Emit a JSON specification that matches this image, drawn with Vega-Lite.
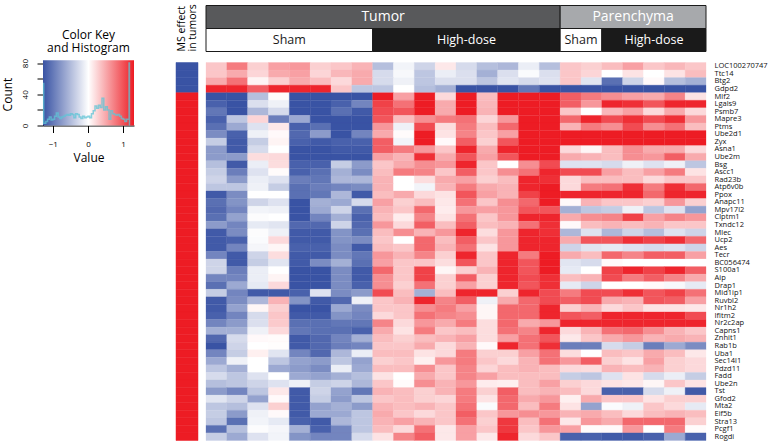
{"$schema":"https://vega.github.io/schema/vega-lite/v6.json","padding":{"left":1,"top":3.5,"right":0,"bottom":0},"background":"white","bounds":"flush","columns":4,"spacing":{"column":8,"row":11},"config":{"font":"Open Sans","view":{"stroke":null}},
"datasets":{"cells":[
{"gene":"LOC100270747","col":1,"v":0.3},{"gene":"LOC100270747","col":2,"v":0.7},{"gene":"LOC100270747","col":3,"v":0.25},{"gene":"LOC100270747","col":4,"v":0.5},{"gene":"LOC100270747","col":5,"v":0.55},{"gene":"LOC100270747","col":6,"v":0.25},{"gene":"LOC100270747","col":7,"v":0.3},{"gene":"LOC100270747","col":8,"v":0.4},{"gene":"LOC100270747","col":9,"v":-0.45},{"gene":"LOC100270747","col":10,"v":-0.08},{"gene":"LOC100270747","col":11,"v":-0.3},{"gene":"LOC100270747","col":12,"v":0.12},{"gene":"LOC100270747","col":13,"v":-0.25},{"gene":"LOC100270747","col":14,"v":-0.45},{"gene":"LOC100270747","col":15,"v":-0.5},{"gene":"LOC100270747","col":16,"v":-0.12},{"gene":"LOC100270747","col":17,"v":-0.45},{"gene":"LOC100270747","col":18,"v":0.3},{"gene":"LOC100270747","col":19,"v":0.25},{"gene":"LOC100270747","col":20,"v":0.35},{"gene":"LOC100270747","col":21,"v":0.5},{"gene":"LOC100270747","col":22,"v":0.3},{"gene":"LOC100270747","col":23,"v":0.38},{"gene":"LOC100270747","col":24,"v":0.3},
{"gene":"Ttc14","col":1,"v":0.3},{"gene":"Ttc14","col":2,"v":0.45},{"gene":"Ttc14","col":3,"v":0.22},{"gene":"Ttc14","col":4,"v":0.45},{"gene":"Ttc14","col":5,"v":0.5},{"gene":"Ttc14","col":6,"v":0.22},{"gene":"Ttc14","col":7,"v":0.38},{"gene":"Ttc14","col":8,"v":0.45},{"gene":"Ttc14","col":9,"v":-0.25},{"gene":"Ttc14","col":10,"v":-0.05},{"gene":"Ttc14","col":11,"v":-0.4},{"gene":"Ttc14","col":12,"v":-0.12},{"gene":"Ttc14","col":13,"v":-0.22},{"gene":"Ttc14","col":14,"v":-0.55},{"gene":"Ttc14","col":15,"v":-0.22},{"gene":"Ttc14","col":16,"v":-0.03},{"gene":"Ttc14","col":17,"v":-0.22},{"gene":"Ttc14","col":18,"v":0.3},{"gene":"Ttc14","col":19,"v":0.22},{"gene":"Ttc14","col":20,"v":0},{"gene":"Ttc14","col":21,"v":0.15},{"gene":"Ttc14","col":22,"v":0},{"gene":"Ttc14","col":23,"v":0.15},{"gene":"Ttc14","col":24,"v":0.35},
{"gene":"Btg2","col":1,"v":0.45},{"gene":"Btg2","col":2,"v":0.75},{"gene":"Btg2","col":3,"v":0.06},{"gene":"Btg2","col":4,"v":0.25},{"gene":"Btg2","col":5,"v":0.45},{"gene":"Btg2","col":6,"v":0.35},{"gene":"Btg2","col":7,"v":0.2},{"gene":"Btg2","col":8,"v":0.45},{"gene":"Btg2","col":9,"v":-0.25},{"gene":"Btg2","col":10,"v":-0.1},{"gene":"Btg2","col":11,"v":-0.4},{"gene":"Btg2","col":12,"v":-0.22},{"gene":"Btg2","col":13,"v":-0.22},{"gene":"Btg2","col":14,"v":-0.4},{"gene":"Btg2","col":15,"v":-0.18},{"gene":"Btg2","col":16,"v":-0.25},{"gene":"Btg2","col":17,"v":-0.2},{"gene":"Btg2","col":18,"v":0.3},{"gene":"Btg2","col":19,"v":-0.18},{"gene":"Btg2","col":20,"v":-1.0},{"gene":"Btg2","col":21,"v":-0.3},{"gene":"Btg2","col":22,"v":0.03},{"gene":"Btg2","col":23,"v":-0.45},{"gene":"Btg2","col":24,"v":-0.55},
{"gene":"Gdpd2","col":1,"v":1.15},{"gene":"Gdpd2","col":2,"v":1.15},{"gene":"Gdpd2","col":3,"v":0.85},{"gene":"Gdpd2","col":4,"v":1.15},{"gene":"Gdpd2","col":5,"v":1.15},{"gene":"Gdpd2","col":6,"v":1.15},{"gene":"Gdpd2","col":7,"v":0.3},{"gene":"Gdpd2","col":8,"v":-0.4},{"gene":"Gdpd2","col":9,"v":-0.4},{"gene":"Gdpd2","col":10,"v":0},{"gene":"Gdpd2","col":11,"v":-0.45},{"gene":"Gdpd2","col":12,"v":-0.55},{"gene":"Gdpd2","col":13,"v":-1.2},{"gene":"Gdpd2","col":14,"v":-1.2},{"gene":"Gdpd2","col":15,"v":-1.2},{"gene":"Gdpd2","col":16,"v":-0.95},{"gene":"Gdpd2","col":17,"v":-1.2},{"gene":"Gdpd2","col":18,"v":-1.2},{"gene":"Gdpd2","col":19,"v":-1.2},{"gene":"Gdpd2","col":20,"v":-1.2},{"gene":"Gdpd2","col":21,"v":-1.2},{"gene":"Gdpd2","col":22,"v":-1.2},{"gene":"Gdpd2","col":23,"v":-1.2},{"gene":"Gdpd2","col":24,"v":-1.2},
{"gene":"Mlf2","col":1,"v":-1.2},{"gene":"Mlf2","col":2,"v":-1.2},{"gene":"Mlf2","col":3,"v":-0.45},{"gene":"Mlf2","col":4,"v":0.02},{"gene":"Mlf2","col":5,"v":-1.2},{"gene":"Mlf2","col":6,"v":-1.2},{"gene":"Mlf2","col":7,"v":-1.2},{"gene":"Mlf2","col":8,"v":-1.2},{"gene":"Mlf2","col":9,"v":1.2},{"gene":"Mlf2","col":10,"v":0.5},{"gene":"Mlf2","col":11,"v":1.2},{"gene":"Mlf2","col":12,"v":0.2},{"gene":"Mlf2","col":13,"v":1.2},{"gene":"Mlf2","col":14,"v":0.35},{"gene":"Mlf2","col":15,"v":1.2},{"gene":"Mlf2","col":16,"v":1.2},{"gene":"Mlf2","col":17,"v":1.2},{"gene":"Mlf2","col":18,"v":0.85},{"gene":"Mlf2","col":19,"v":0.7},{"gene":"Mlf2","col":20,"v":0.6},{"gene":"Mlf2","col":21,"v":0.5},{"gene":"Mlf2","col":22,"v":0.45},{"gene":"Mlf2","col":23,"v":0.65},{"gene":"Mlf2","col":24,"v":0.15},
{"gene":"Lgals9","col":1,"v":-1.1},{"gene":"Lgals9","col":2,"v":-1.2},{"gene":"Lgals9","col":3,"v":-0.22},{"gene":"Lgals9","col":4,"v":-0.1},{"gene":"Lgals9","col":5,"v":-1.2},{"gene":"Lgals9","col":6,"v":-1.2},{"gene":"Lgals9","col":7,"v":-1.1},{"gene":"Lgals9","col":8,"v":-0.85},{"gene":"Lgals9","col":9,"v":1.0},{"gene":"Lgals9","col":10,"v":0.75},{"gene":"Lgals9","col":11,"v":1.2},{"gene":"Lgals9","col":12,"v":0.45},{"gene":"Lgals9","col":13,"v":1.2},{"gene":"Lgals9","col":14,"v":0.38},{"gene":"Lgals9","col":15,"v":1.2},{"gene":"Lgals9","col":16,"v":1.2},{"gene":"Lgals9","col":17,"v":1.2},{"gene":"Lgals9","col":18,"v":0.85},{"gene":"Lgals9","col":19,"v":0.55},{"gene":"Lgals9","col":20,"v":1.15},{"gene":"Lgals9","col":21,"v":1.1},{"gene":"Lgals9","col":22,"v":0.9},{"gene":"Lgals9","col":23,"v":1.15},{"gene":"Lgals9","col":24,"v":1.15},
{"gene":"Psmb7","col":1,"v":-0.95},{"gene":"Psmb7","col":2,"v":-1.2},{"gene":"Psmb7","col":3,"v":-0.5},{"gene":"Psmb7","col":4,"v":-0.25},{"gene":"Psmb7","col":5,"v":-1.2},{"gene":"Psmb7","col":6,"v":-1.2},{"gene":"Psmb7","col":7,"v":-1.0},{"gene":"Psmb7","col":8,"v":-1.15},{"gene":"Psmb7","col":9,"v":0.95},{"gene":"Psmb7","col":10,"v":0.9},{"gene":"Psmb7","col":11,"v":1.2},{"gene":"Psmb7","col":12,"v":0.45},{"gene":"Psmb7","col":13,"v":1.2},{"gene":"Psmb7","col":14,"v":0.4},{"gene":"Psmb7","col":15,"v":1.2},{"gene":"Psmb7","col":16,"v":1.2},{"gene":"Psmb7","col":17,"v":1.2},{"gene":"Psmb7","col":18,"v":0.3},{"gene":"Psmb7","col":19,"v":0},{"gene":"Psmb7","col":20,"v":0.38},{"gene":"Psmb7","col":21,"v":0.5},{"gene":"Psmb7","col":22,"v":0.2},{"gene":"Psmb7","col":23,"v":0.45},{"gene":"Psmb7","col":24,"v":0.2},
{"gene":"Mapre3","col":1,"v":-1.1},{"gene":"Mapre3","col":2,"v":-0.4},{"gene":"Mapre3","col":3,"v":0.22},{"gene":"Mapre3","col":4,"v":-0.9},{"gene":"Mapre3","col":5,"v":-0.6},{"gene":"Mapre3","col":6,"v":-1.2},{"gene":"Mapre3","col":7,"v":-1.2},{"gene":"Mapre3","col":8,"v":-1.2},{"gene":"Mapre3","col":9,"v":0.9},{"gene":"Mapre3","col":10,"v":0.35},{"gene":"Mapre3","col":11,"v":0.6},{"gene":"Mapre3","col":12,"v":0.7},{"gene":"Mapre3","col":13,"v":0.75},{"gene":"Mapre3","col":14,"v":0.22},{"gene":"Mapre3","col":15,"v":0.55},{"gene":"Mapre3","col":16,"v":1.2},{"gene":"Mapre3","col":17,"v":1.2},{"gene":"Mapre3","col":18,"v":0.8},{"gene":"Mapre3","col":19,"v":1.15},{"gene":"Mapre3","col":20,"v":0.95},{"gene":"Mapre3","col":21,"v":1.1},{"gene":"Mapre3","col":22,"v":0.95},{"gene":"Mapre3","col":23,"v":1.1},{"gene":"Mapre3","col":24,"v":0.55},
{"gene":"Ptms","col":1,"v":-1.0},{"gene":"Ptms","col":2,"v":-0.6},{"gene":"Ptms","col":3,"v":-0.2},{"gene":"Ptms","col":4,"v":0.12},{"gene":"Ptms","col":5,"v":-1.1},{"gene":"Ptms","col":6,"v":-1.0},{"gene":"Ptms","col":7,"v":-1.2},{"gene":"Ptms","col":8,"v":-1.2},{"gene":"Ptms","col":9,"v":0.55},{"gene":"Ptms","col":10,"v":-0.1},{"gene":"Ptms","col":11,"v":0.95},{"gene":"Ptms","col":12,"v":0.18},{"gene":"Ptms","col":13,"v":0.7},{"gene":"Ptms","col":14,"v":0.35},{"gene":"Ptms","col":15,"v":0.8},{"gene":"Ptms","col":16,"v":1.2},{"gene":"Ptms","col":17,"v":1.2},{"gene":"Ptms","col":18,"v":0.4},{"gene":"Ptms","col":19,"v":0.7},{"gene":"Ptms","col":20,"v":0.6},{"gene":"Ptms","col":21,"v":0.95},{"gene":"Ptms","col":22,"v":0.6},{"gene":"Ptms","col":23,"v":0.75},{"gene":"Ptms","col":24,"v":0.35},
{"gene":"Ube2d1","col":1,"v":-0.8},{"gene":"Ube2d1","col":2,"v":-1.1},{"gene":"Ube2d1","col":3,"v":-0.1},{"gene":"Ube2d1","col":4,"v":0.03},{"gene":"Ube2d1","col":5,"v":-1.05},{"gene":"Ube2d1","col":6,"v":-0.7},{"gene":"Ube2d1","col":7,"v":-1.2},{"gene":"Ube2d1","col":8,"v":-0.85},{"gene":"Ube2d1","col":9,"v":0.45},{"gene":"Ube2d1","col":10,"v":0.02},{"gene":"Ube2d1","col":11,"v":1.2},{"gene":"Ube2d1","col":12,"v":0.15},{"gene":"Ube2d1","col":13,"v":0.65},{"gene":"Ube2d1","col":14,"v":0.3},{"gene":"Ube2d1","col":15,"v":0.5},{"gene":"Ube2d1","col":16,"v":1.2},{"gene":"Ube2d1","col":17,"v":1.2},{"gene":"Ube2d1","col":18,"v":1.2},{"gene":"Ube2d1","col":19,"v":1.2},{"gene":"Ube2d1","col":20,"v":1.2},{"gene":"Ube2d1","col":21,"v":1.2},{"gene":"Ube2d1","col":22,"v":1.2},{"gene":"Ube2d1","col":23,"v":1.2},{"gene":"Ube2d1","col":24,"v":1.2},
{"gene":"Zyx","col":1,"v":-0.35},{"gene":"Zyx","col":2,"v":-1.15},{"gene":"Zyx","col":3,"v":-0.35},{"gene":"Zyx","col":4,"v":0.06},{"gene":"Zyx","col":5,"v":-1.1},{"gene":"Zyx","col":6,"v":-1.15},{"gene":"Zyx","col":7,"v":-1.1},{"gene":"Zyx","col":8,"v":-1.1},{"gene":"Zyx","col":9,"v":0.85},{"gene":"Zyx","col":10,"v":-0.08},{"gene":"Zyx","col":11,"v":1.2},{"gene":"Zyx","col":12,"v":0.03},{"gene":"Zyx","col":13,"v":0.85},{"gene":"Zyx","col":14,"v":0.25},{"gene":"Zyx","col":15,"v":0.9},{"gene":"Zyx","col":16,"v":1.2},{"gene":"Zyx","col":17,"v":1.2},{"gene":"Zyx","col":18,"v":1.2},{"gene":"Zyx","col":19,"v":1.2},{"gene":"Zyx","col":20,"v":1.2},{"gene":"Zyx","col":21,"v":1.2},{"gene":"Zyx","col":22,"v":1.2},{"gene":"Zyx","col":23,"v":1.2},{"gene":"Zyx","col":24,"v":1.2},
{"gene":"Asna1","col":1,"v":-0.7},{"gene":"Asna1","col":2,"v":-1.15},{"gene":"Asna1","col":3,"v":-0.25},{"gene":"Asna1","col":4,"v":0},{"gene":"Asna1","col":5,"v":-1.2},{"gene":"Asna1","col":6,"v":-1.2},{"gene":"Asna1","col":7,"v":-1.15},{"gene":"Asna1","col":8,"v":-1.15},{"gene":"Asna1","col":9,"v":0.85},{"gene":"Asna1","col":10,"v":0.7},{"gene":"Asna1","col":11,"v":0.55},{"gene":"Asna1","col":12,"v":0.3},{"gene":"Asna1","col":13,"v":1.15},{"gene":"Asna1","col":14,"v":0.45},{"gene":"Asna1","col":15,"v":1.15},{"gene":"Asna1","col":16,"v":1.2},{"gene":"Asna1","col":17,"v":1.2},{"gene":"Asna1","col":18,"v":0.2},{"gene":"Asna1","col":19,"v":0.05},{"gene":"Asna1","col":20,"v":0.35},{"gene":"Asna1","col":21,"v":0.6},{"gene":"Asna1","col":22,"v":0.45},{"gene":"Asna1","col":23,"v":0.45},{"gene":"Asna1","col":24,"v":0.2},
{"gene":"Ube2m","col":1,"v":-0.7},{"gene":"Ube2m","col":2,"v":-0.7},{"gene":"Ube2m","col":3,"v":0.18},{"gene":"Ube2m","col":4,"v":0.2},{"gene":"Ube2m","col":5,"v":-1.2},{"gene":"Ube2m","col":6,"v":-1.2},{"gene":"Ube2m","col":7,"v":-1.2},{"gene":"Ube2m","col":8,"v":-1.2},{"gene":"Ube2m","col":9,"v":0.5},{"gene":"Ube2m","col":10,"v":0.4},{"gene":"Ube2m","col":11,"v":1.1},{"gene":"Ube2m","col":12,"v":0.45},{"gene":"Ube2m","col":13,"v":0.9},{"gene":"Ube2m","col":14,"v":0.5},{"gene":"Ube2m","col":15,"v":0.9},{"gene":"Ube2m","col":16,"v":1.2},{"gene":"Ube2m","col":17,"v":1.2},{"gene":"Ube2m","col":18,"v":0.45},{"gene":"Ube2m","col":19,"v":0.4},{"gene":"Ube2m","col":20,"v":0.35},{"gene":"Ube2m","col":21,"v":0.6},{"gene":"Ube2m","col":22,"v":0.55},{"gene":"Ube2m","col":23,"v":0.85},{"gene":"Ube2m","col":24,"v":0.45},
{"gene":"Bsg","col":1,"v":-0.45},{"gene":"Bsg","col":2,"v":-1.15},{"gene":"Bsg","col":3,"v":-0.12},{"gene":"Bsg","col":4,"v":0.18},{"gene":"Bsg","col":5,"v":-1.1},{"gene":"Bsg","col":6,"v":-1.1},{"gene":"Bsg","col":7,"v":-0.35},{"gene":"Bsg","col":8,"v":-0.7},{"gene":"Bsg","col":9,"v":0.3},{"gene":"Bsg","col":10,"v":0.45},{"gene":"Bsg","col":11,"v":0.6},{"gene":"Bsg","col":12,"v":0.55},{"gene":"Bsg","col":13,"v":1.15},{"gene":"Bsg","col":14,"v":0.3},{"gene":"Bsg","col":15,"v":0},{"gene":"Bsg","col":16,"v":0.6},{"gene":"Bsg","col":17,"v":0.95},{"gene":"Bsg","col":18,"v":-0.2},{"gene":"Bsg","col":19,"v":-0.2},{"gene":"Bsg","col":20,"v":-0.25},{"gene":"Bsg","col":21,"v":-0.1},{"gene":"Bsg","col":22,"v":-0.2},{"gene":"Bsg","col":23,"v":-0.1},{"gene":"Bsg","col":24,"v":-0.4},
{"gene":"Ascc1","col":1,"v":-0.35},{"gene":"Ascc1","col":2,"v":-0.9},{"gene":"Ascc1","col":3,"v":-0.2},{"gene":"Ascc1","col":4,"v":0.02},{"gene":"Ascc1","col":5,"v":-1.1},{"gene":"Ascc1","col":6,"v":-1.0},{"gene":"Ascc1","col":7,"v":-0.55},{"gene":"Ascc1","col":8,"v":-0.8},{"gene":"Ascc1","col":9,"v":0.35},{"gene":"Ascc1","col":10,"v":0.7},{"gene":"Ascc1","col":11,"v":0.65},{"gene":"Ascc1","col":12,"v":0.3},{"gene":"Ascc1","col":13,"v":0.85},{"gene":"Ascc1","col":14,"v":0.3},{"gene":"Ascc1","col":15,"v":0.6},{"gene":"Ascc1","col":16,"v":0.75},{"gene":"Ascc1","col":17,"v":1.15},{"gene":"Ascc1","col":18,"v":0.95},{"gene":"Ascc1","col":19,"v":0.95},{"gene":"Ascc1","col":20,"v":0.5},{"gene":"Ascc1","col":21,"v":0.35},{"gene":"Ascc1","col":22,"v":0.5},{"gene":"Ascc1","col":23,"v":0.7},{"gene":"Ascc1","col":24,"v":0.15},
{"gene":"Rad23b","col":1,"v":-0.3},{"gene":"Rad23b","col":2,"v":-0.7},{"gene":"Rad23b","col":3,"v":-0.12},{"gene":"Rad23b","col":4,"v":-0.2},{"gene":"Rad23b","col":5,"v":-0.9},{"gene":"Rad23b","col":6,"v":-0.95},{"gene":"Rad23b","col":7,"v":-0.5},{"gene":"Rad23b","col":8,"v":-0.5},{"gene":"Rad23b","col":9,"v":0.4},{"gene":"Rad23b","col":10,"v":0},{"gene":"Rad23b","col":11,"v":0.18},{"gene":"Rad23b","col":12,"v":0.45},{"gene":"Rad23b","col":13,"v":0.5},{"gene":"Rad23b","col":14,"v":0.25},{"gene":"Rad23b","col":15,"v":0.35},{"gene":"Rad23b","col":16,"v":1.15},{"gene":"Rad23b","col":17,"v":1.1},{"gene":"Rad23b","col":18,"v":0.2},{"gene":"Rad23b","col":19,"v":0.35},{"gene":"Rad23b","col":20,"v":0.35},{"gene":"Rad23b","col":21,"v":0.35},{"gene":"Rad23b","col":22,"v":0.2},{"gene":"Rad23b","col":23,"v":0.3},{"gene":"Rad23b","col":24,"v":0.3},
{"gene":"Atp6v0b","col":1,"v":-0.4},{"gene":"Atp6v0b","col":2,"v":-0.4},{"gene":"Atp6v0b","col":3,"v":-0.1},{"gene":"Atp6v0b","col":4,"v":-0.35},{"gene":"Atp6v0b","col":5,"v":-1.0},{"gene":"Atp6v0b","col":6,"v":-0.9},{"gene":"Atp6v0b","col":7,"v":-0.85},{"gene":"Atp6v0b","col":8,"v":-0.8},{"gene":"Atp6v0b","col":9,"v":0.4},{"gene":"Atp6v0b","col":10,"v":0},{"gene":"Atp6v0b","col":11,"v":-0.08},{"gene":"Atp6v0b","col":12,"v":0.4},{"gene":"Atp6v0b","col":13,"v":0.7},{"gene":"Atp6v0b","col":14,"v":0.45},{"gene":"Atp6v0b","col":15,"v":0.4},{"gene":"Atp6v0b","col":16,"v":1.15},{"gene":"Atp6v0b","col":17,"v":1.2},{"gene":"Atp6v0b","col":18,"v":0.2},{"gene":"Atp6v0b","col":19,"v":0.7},{"gene":"Atp6v0b","col":20,"v":0.75},{"gene":"Atp6v0b","col":21,"v":1.1},{"gene":"Atp6v0b","col":22,"v":0.7},{"gene":"Atp6v0b","col":23,"v":1.1},{"gene":"Atp6v0b","col":24,"v":0.8},
{"gene":"Ppox","col":1,"v":-1.15},{"gene":"Ppox","col":2,"v":-0.8},{"gene":"Ppox","col":3,"v":0},{"gene":"Ppox","col":4,"v":0},{"gene":"Ppox","col":5,"v":-1.0},{"gene":"Ppox","col":6,"v":-0.95},{"gene":"Ppox","col":7,"v":-0.5},{"gene":"Ppox","col":8,"v":-1.15},{"gene":"Ppox","col":9,"v":0.35},{"gene":"Ppox","col":10,"v":0.45},{"gene":"Ppox","col":11,"v":0.2},{"gene":"Ppox","col":12,"v":0.15},{"gene":"Ppox","col":13,"v":0.9},{"gene":"Ppox","col":14,"v":0.5},{"gene":"Ppox","col":15,"v":0.4},{"gene":"Ppox","col":16,"v":1.0},{"gene":"Ppox","col":17,"v":1.2},{"gene":"Ppox","col":18,"v":1.15},{"gene":"Ppox","col":19,"v":1.15},{"gene":"Ppox","col":20,"v":1.15},{"gene":"Ppox","col":21,"v":1.15},{"gene":"Ppox","col":22,"v":0.8},{"gene":"Ppox","col":23,"v":1.15},{"gene":"Ppox","col":24,"v":1.15},
{"gene":"Anapc11","col":1,"v":-1.0},{"gene":"Anapc11","col":2,"v":-0.75},{"gene":"Anapc11","col":3,"v":-0.3},{"gene":"Anapc11","col":4,"v":-0.2},{"gene":"Anapc11","col":5,"v":-1.2},{"gene":"Anapc11","col":6,"v":-0.55},{"gene":"Anapc11","col":7,"v":-0.6},{"gene":"Anapc11","col":8,"v":-0.25},{"gene":"Anapc11","col":9,"v":0.5},{"gene":"Anapc11","col":10,"v":0.25},{"gene":"Anapc11","col":11,"v":0.35},{"gene":"Anapc11","col":12,"v":0.12},{"gene":"Anapc11","col":13,"v":0.75},{"gene":"Anapc11","col":14,"v":0.3},{"gene":"Anapc11","col":15,"v":0.6},{"gene":"Anapc11","col":16,"v":0.8},{"gene":"Anapc11","col":17,"v":1.2},{"gene":"Anapc11","col":18,"v":0.03},{"gene":"Anapc11","col":19,"v":0.4},{"gene":"Anapc11","col":20,"v":0.3},{"gene":"Anapc11","col":21,"v":0.3},{"gene":"Anapc11","col":22,"v":0.25},{"gene":"Anapc11","col":23,"v":0.55},{"gene":"Anapc11","col":24,"v":0.25},
{"gene":"Mpv17l2","col":1,"v":-1.05},{"gene":"Mpv17l2","col":2,"v":-0.85},{"gene":"Mpv17l2","col":3,"v":-0.08},{"gene":"Mpv17l2","col":4,"v":-0.1},{"gene":"Mpv17l2","col":5,"v":-1.2},{"gene":"Mpv17l2","col":6,"v":-0.6},{"gene":"Mpv17l2","col":7,"v":-0.3},{"gene":"Mpv17l2","col":8,"v":-1.0},{"gene":"Mpv17l2","col":9,"v":0.4},{"gene":"Mpv17l2","col":10,"v":0.3},{"gene":"Mpv17l2","col":11,"v":0.8},{"gene":"Mpv17l2","col":12,"v":0.1},{"gene":"Mpv17l2","col":13,"v":0.55},{"gene":"Mpv17l2","col":14,"v":0.5},{"gene":"Mpv17l2","col":15,"v":0.55},{"gene":"Mpv17l2","col":16,"v":0.9},{"gene":"Mpv17l2","col":17,"v":0.9},{"gene":"Mpv17l2","col":18,"v":-0.55},{"gene":"Mpv17l2","col":19,"v":-0.4},{"gene":"Mpv17l2","col":20,"v":-0.35},{"gene":"Mpv17l2","col":21,"v":-0.1},{"gene":"Mpv17l2","col":22,"v":-0.4},{"gene":"Mpv17l2","col":23,"v":-0.2},{"gene":"Mpv17l2","col":24,"v":-0.65},
{"gene":"Clptm1","col":1,"v":-1.0},{"gene":"Clptm1","col":2,"v":-0.65},{"gene":"Clptm1","col":3,"v":-0.02},{"gene":"Clptm1","col":4,"v":0},{"gene":"Clptm1","col":5,"v":-1.2},{"gene":"Clptm1","col":6,"v":-0.85},{"gene":"Clptm1","col":7,"v":-0.55},{"gene":"Clptm1","col":8,"v":-1.1},{"gene":"Clptm1","col":9,"v":0.35},{"gene":"Clptm1","col":10,"v":0.1},{"gene":"Clptm1","col":11,"v":0.65},{"gene":"Clptm1","col":12,"v":0.15},{"gene":"Clptm1","col":13,"v":0.75},{"gene":"Clptm1","col":14,"v":0.3},{"gene":"Clptm1","col":15,"v":0.55},{"gene":"Clptm1","col":16,"v":1.15},{"gene":"Clptm1","col":17,"v":1.15},{"gene":"Clptm1","col":18,"v":0.45},{"gene":"Clptm1","col":19,"v":0.6},{"gene":"Clptm1","col":20,"v":0.65},{"gene":"Clptm1","col":21,"v":1.0},{"gene":"Clptm1","col":22,"v":0.5},{"gene":"Clptm1","col":23,"v":0.65},{"gene":"Clptm1","col":24,"v":0.55},
{"gene":"Txndc12","col":1,"v":-0.7},{"gene":"Txndc12","col":2,"v":-0.85},{"gene":"Txndc12","col":3,"v":-0.15},{"gene":"Txndc12","col":4,"v":-0.18},{"gene":"Txndc12","col":5,"v":-1.05},{"gene":"Txndc12","col":6,"v":-1.05},{"gene":"Txndc12","col":7,"v":-0.3},{"gene":"Txndc12","col":8,"v":-1.05},{"gene":"Txndc12","col":9,"v":0.55},{"gene":"Txndc12","col":10,"v":0.2},{"gene":"Txndc12","col":11,"v":0.85},{"gene":"Txndc12","col":12,"v":0.35},{"gene":"Txndc12","col":13,"v":0.85},{"gene":"Txndc12","col":14,"v":0.35},{"gene":"Txndc12","col":15,"v":0.4},{"gene":"Txndc12","col":16,"v":0.75},{"gene":"Txndc12","col":17,"v":1.1},{"gene":"Txndc12","col":18,"v":0.03},{"gene":"Txndc12","col":19,"v":0.35},{"gene":"Txndc12","col":20,"v":0.4},{"gene":"Txndc12","col":21,"v":0.35},{"gene":"Txndc12","col":22,"v":0.4},{"gene":"Txndc12","col":23,"v":0.3},{"gene":"Txndc12","col":24,"v":0.3},
{"gene":"Mlec","col":1,"v":-1.15},{"gene":"Mlec","col":2,"v":-0.8},{"gene":"Mlec","col":3,"v":-0.02},{"gene":"Mlec","col":4,"v":-0.1},{"gene":"Mlec","col":5,"v":-1.15},{"gene":"Mlec","col":6,"v":-1.15},{"gene":"Mlec","col":7,"v":-0.75},{"gene":"Mlec","col":8,"v":-1.0},{"gene":"Mlec","col":9,"v":0.35},{"gene":"Mlec","col":10,"v":0.6},{"gene":"Mlec","col":11,"v":0.4},{"gene":"Mlec","col":12,"v":0.55},{"gene":"Mlec","col":13,"v":1.15},{"gene":"Mlec","col":14,"v":0.18},{"gene":"Mlec","col":15,"v":0.55},{"gene":"Mlec","col":16,"v":1.15},{"gene":"Mlec","col":17,"v":1.1},{"gene":"Mlec","col":18,"v":-0.5},{"gene":"Mlec","col":19,"v":-0.2},{"gene":"Mlec","col":20,"v":-0.5},{"gene":"Mlec","col":21,"v":-0.3},{"gene":"Mlec","col":22,"v":-0.45},{"gene":"Mlec","col":23,"v":-0.2},{"gene":"Mlec","col":24,"v":-0.3},
{"gene":"Ucp2","col":1,"v":-1.15},{"gene":"Ucp2","col":2,"v":-1.1},{"gene":"Ucp2","col":3,"v":-0.03},{"gene":"Ucp2","col":4,"v":0.2},{"gene":"Ucp2","col":5,"v":-1.15},{"gene":"Ucp2","col":6,"v":-1.15},{"gene":"Ucp2","col":7,"v":-0.75},{"gene":"Ucp2","col":8,"v":-0.8},{"gene":"Ucp2","col":9,"v":0.3},{"gene":"Ucp2","col":10,"v":0},{"gene":"Ucp2","col":11,"v":0.8},{"gene":"Ucp2","col":12,"v":0.35},{"gene":"Ucp2","col":13,"v":0.85},{"gene":"Ucp2","col":14,"v":0.3},{"gene":"Ucp2","col":15,"v":0.55},{"gene":"Ucp2","col":16,"v":1.15},{"gene":"Ucp2","col":17,"v":1.15},{"gene":"Ucp2","col":18,"v":0.45},{"gene":"Ucp2","col":19,"v":0.9},{"gene":"Ucp2","col":20,"v":0.9},{"gene":"Ucp2","col":21,"v":1.1},{"gene":"Ucp2","col":22,"v":1.0},{"gene":"Ucp2","col":23,"v":1.1},{"gene":"Ucp2","col":24,"v":0.8},
{"gene":"Aes","col":1,"v":-1.15},{"gene":"Aes","col":2,"v":-0.85},{"gene":"Aes","col":3,"v":-0.06},{"gene":"Aes","col":4,"v":0.05},{"gene":"Aes","col":5,"v":-1.1},{"gene":"Aes","col":6,"v":-1.1},{"gene":"Aes","col":7,"v":-0.8},{"gene":"Aes","col":8,"v":-1.15},{"gene":"Aes","col":9,"v":0.35},{"gene":"Aes","col":10,"v":0.3},{"gene":"Aes","col":11,"v":0.8},{"gene":"Aes","col":12,"v":0.4},{"gene":"Aes","col":13,"v":0.75},{"gene":"Aes","col":14,"v":0.15},{"gene":"Aes","col":15,"v":0.55},{"gene":"Aes","col":16,"v":1.15},{"gene":"Aes","col":17,"v":1.15},{"gene":"Aes","col":18,"v":-0.3},{"gene":"Aes","col":19,"v":-0.18},{"gene":"Aes","col":20,"v":-0.15},{"gene":"Aes","col":21,"v":-0.2},{"gene":"Aes","col":22,"v":-0.25},{"gene":"Aes","col":23,"v":-0.2},{"gene":"Aes","col":24,"v":-0.3},
{"gene":"Tecr","col":1,"v":-0.85},{"gene":"Tecr","col":2,"v":-1.15},{"gene":"Tecr","col":3,"v":-0.3},{"gene":"Tecr","col":4,"v":0.18},{"gene":"Tecr","col":5,"v":-1.15},{"gene":"Tecr","col":6,"v":-1.15},{"gene":"Tecr","col":7,"v":-0.8},{"gene":"Tecr","col":8,"v":-0.95},{"gene":"Tecr","col":9,"v":0.55},{"gene":"Tecr","col":10,"v":0.4},{"gene":"Tecr","col":11,"v":0.65},{"gene":"Tecr","col":12,"v":0.25},{"gene":"Tecr","col":13,"v":1.15},{"gene":"Tecr","col":14,"v":0.3},{"gene":"Tecr","col":15,"v":1.15},{"gene":"Tecr","col":16,"v":0.7},{"gene":"Tecr","col":17,"v":1.2},{"gene":"Tecr","col":18,"v":0.45},{"gene":"Tecr","col":19,"v":0.35},{"gene":"Tecr","col":20,"v":0.8},{"gene":"Tecr","col":21,"v":0.65},{"gene":"Tecr","col":22,"v":0.85},{"gene":"Tecr","col":23,"v":0.85},{"gene":"Tecr","col":24,"v":0.5},
{"gene":"BC056474","col":1,"v":-0.3},{"gene":"BC056474","col":2,"v":-1.15},{"gene":"BC056474","col":3,"v":-0.35},{"gene":"BC056474","col":4,"v":-0.18},{"gene":"BC056474","col":5,"v":-1.15},{"gene":"BC056474","col":6,"v":-0.8},{"gene":"BC056474","col":7,"v":-0.55},{"gene":"BC056474","col":8,"v":-1.0},{"gene":"BC056474","col":9,"v":0.5},{"gene":"BC056474","col":10,"v":0.3},{"gene":"BC056474","col":11,"v":0.3},{"gene":"BC056474","col":12,"v":0.18},{"gene":"BC056474","col":13,"v":0.9},{"gene":"BC056474","col":14,"v":0.3},{"gene":"BC056474","col":15,"v":1.15},{"gene":"BC056474","col":16,"v":0.9},{"gene":"BC056474","col":17,"v":1.2},{"gene":"BC056474","col":18,"v":-0.18},{"gene":"BC056474","col":19,"v":-0.25},{"gene":"BC056474","col":20,"v":0.03},{"gene":"BC056474","col":21,"v":0},{"gene":"BC056474","col":22,"v":0},{"gene":"BC056474","col":23,"v":0},{"gene":"BC056474","col":24,"v":0},
{"gene":"S100a1","col":1,"v":-0.3},{"gene":"S100a1","col":2,"v":-0.9},{"gene":"S100a1","col":3,"v":-0.12},{"gene":"S100a1","col":4,"v":0},{"gene":"S100a1","col":5,"v":-1.2},{"gene":"S100a1","col":6,"v":-1.2},{"gene":"S100a1","col":7,"v":-0.8},{"gene":"S100a1","col":8,"v":-1.15},{"gene":"S100a1","col":9,"v":0.8},{"gene":"S100a1","col":10,"v":0.3},{"gene":"S100a1","col":11,"v":1.0},{"gene":"S100a1","col":12,"v":0.05},{"gene":"S100a1","col":13,"v":0.25},{"gene":"S100a1","col":14,"v":0.4},{"gene":"S100a1","col":15,"v":1.15},{"gene":"S100a1","col":16,"v":0.9},{"gene":"S100a1","col":17,"v":1.2},{"gene":"S100a1","col":18,"v":-0.15},{"gene":"S100a1","col":19,"v":0},{"gene":"S100a1","col":20,"v":1.0},{"gene":"S100a1","col":21,"v":1.15},{"gene":"S100a1","col":22,"v":1.0},{"gene":"S100a1","col":23,"v":1.15},{"gene":"S100a1","col":24,"v":0.85},
{"gene":"Aip","col":1,"v":-0.85},{"gene":"Aip","col":2,"v":-0.85},{"gene":"Aip","col":3,"v":-0.12},{"gene":"Aip","col":4,"v":0.06},{"gene":"Aip","col":5,"v":-1.2},{"gene":"Aip","col":6,"v":-1.2},{"gene":"Aip","col":7,"v":-0.8},{"gene":"Aip","col":8,"v":-1.15},{"gene":"Aip","col":9,"v":0.6},{"gene":"Aip","col":10,"v":0.3},{"gene":"Aip","col":11,"v":1.0},{"gene":"Aip","col":12,"v":0.25},{"gene":"Aip","col":13,"v":0.85},{"gene":"Aip","col":14,"v":0.25},{"gene":"Aip","col":15,"v":1.15},{"gene":"Aip","col":16,"v":0.95},{"gene":"Aip","col":17,"v":1.1},{"gene":"Aip","col":18,"v":0.35},{"gene":"Aip","col":19,"v":0.4},{"gene":"Aip","col":20,"v":0.95},{"gene":"Aip","col":21,"v":0.7},{"gene":"Aip","col":22,"v":0.85},{"gene":"Aip","col":23,"v":0.65},{"gene":"Aip","col":24,"v":0.45},
{"gene":"Drap1","col":1,"v":-1.0},{"gene":"Drap1","col":2,"v":-0.6},{"gene":"Drap1","col":3,"v":-0.15},{"gene":"Drap1","col":4,"v":0.2},{"gene":"Drap1","col":5,"v":-1.2},{"gene":"Drap1","col":6,"v":-1.2},{"gene":"Drap1","col":7,"v":-0.8},{"gene":"Drap1","col":8,"v":-1.1},{"gene":"Drap1","col":9,"v":0.6},{"gene":"Drap1","col":10,"v":0.25},{"gene":"Drap1","col":11,"v":0.75},{"gene":"Drap1","col":12,"v":0.25},{"gene":"Drap1","col":13,"v":0.5},{"gene":"Drap1","col":14,"v":0.25},{"gene":"Drap1","col":15,"v":1.15},{"gene":"Drap1","col":16,"v":0.9},{"gene":"Drap1","col":17,"v":1.1},{"gene":"Drap1","col":18,"v":-0.15},{"gene":"Drap1","col":19,"v":-0.3},{"gene":"Drap1","col":20,"v":0},{"gene":"Drap1","col":21,"v":0},{"gene":"Drap1","col":22,"v":0.03},{"gene":"Drap1","col":23,"v":-0.05},{"gene":"Drap1","col":24,"v":-0.15},
{"gene":"Mid1ip1","col":1,"v":-0.35},{"gene":"Mid1ip1","col":2,"v":-0.85},{"gene":"Mid1ip1","col":3,"v":-1.15},{"gene":"Mid1ip1","col":4,"v":-1.15},{"gene":"Mid1ip1","col":5,"v":-1.1},{"gene":"Mid1ip1","col":6,"v":-0.2},{"gene":"Mid1ip1","col":7,"v":-0.8},{"gene":"Mid1ip1","col":8,"v":-0.7},{"gene":"Mid1ip1","col":9,"v":0.95},{"gene":"Mid1ip1","col":10,"v":0.35},{"gene":"Mid1ip1","col":11,"v":-0.55},{"gene":"Mid1ip1","col":12,"v":0.35},{"gene":"Mid1ip1","col":13,"v":1.15},{"gene":"Mid1ip1","col":14,"v":1.15},{"gene":"Mid1ip1","col":15,"v":0.25},{"gene":"Mid1ip1","col":16,"v":1.15},{"gene":"Mid1ip1","col":17,"v":0.95},{"gene":"Mid1ip1","col":18,"v":0.7},{"gene":"Mid1ip1","col":19,"v":0.95},{"gene":"Mid1ip1","col":20,"v":0.95},{"gene":"Mid1ip1","col":21,"v":1.1},{"gene":"Mid1ip1","col":22,"v":0.9},{"gene":"Mid1ip1","col":23,"v":1.0},{"gene":"Mid1ip1","col":24,"v":0.75},
{"gene":"Ruvbl2","col":1,"v":-1.15},{"gene":"Ruvbl2","col":2,"v":-0.8},{"gene":"Ruvbl2","col":3,"v":-0.5},{"gene":"Ruvbl2","col":4,"v":0.4},{"gene":"Ruvbl2","col":5,"v":-0.75},{"gene":"Ruvbl2","col":6,"v":-1.15},{"gene":"Ruvbl2","col":7,"v":-1.05},{"gene":"Ruvbl2","col":8,"v":-0.1},{"gene":"Ruvbl2","col":9,"v":0.3},{"gene":"Ruvbl2","col":10,"v":0.4},{"gene":"Ruvbl2","col":11,"v":1.15},{"gene":"Ruvbl2","col":12,"v":0.65},{"gene":"Ruvbl2","col":13,"v":0.85},{"gene":"Ruvbl2","col":14,"v":-0.1},{"gene":"Ruvbl2","col":15,"v":0.45},{"gene":"Ruvbl2","col":16,"v":0.8},{"gene":"Ruvbl2","col":17,"v":0.95},{"gene":"Ruvbl2","col":18,"v":0.85},{"gene":"Ruvbl2","col":19,"v":0.95},{"gene":"Ruvbl2","col":20,"v":0.45},{"gene":"Ruvbl2","col":21,"v":0.4},{"gene":"Ruvbl2","col":22,"v":0.9},{"gene":"Ruvbl2","col":23,"v":0.85},{"gene":"Ruvbl2","col":24,"v":0.5},
{"gene":"Nr1h2","col":1,"v":-1.15},{"gene":"Nr1h2","col":2,"v":-0.65},{"gene":"Nr1h2","col":3,"v":0.05},{"gene":"Nr1h2","col":4,"v":0.25},{"gene":"Nr1h2","col":5,"v":-1.2},{"gene":"Nr1h2","col":6,"v":-1.2},{"gene":"Nr1h2","col":7,"v":-0.6},{"gene":"Nr1h2","col":8,"v":-0.8},{"gene":"Nr1h2","col":9,"v":0.3},{"gene":"Nr1h2","col":10,"v":0.3},{"gene":"Nr1h2","col":11,"v":0.6},{"gene":"Nr1h2","col":12,"v":0.7},{"gene":"Nr1h2","col":13,"v":0.5},{"gene":"Nr1h2","col":14,"v":0.05},{"gene":"Nr1h2","col":15,"v":0.8},{"gene":"Nr1h2","col":16,"v":0.8},{"gene":"Nr1h2","col":17,"v":1.15},{"gene":"Nr1h2","col":18,"v":0.25},{"gene":"Nr1h2","col":19,"v":0.4},{"gene":"Nr1h2","col":20,"v":0.2},{"gene":"Nr1h2","col":21,"v":0.3},{"gene":"Nr1h2","col":22,"v":0.15},{"gene":"Nr1h2","col":23,"v":0.15},{"gene":"Nr1h2","col":24,"v":0.12},
{"gene":"Ifitm2","col":1,"v":-1.1},{"gene":"Ifitm2","col":2,"v":-0.85},{"gene":"Ifitm2","col":3,"v":-0.25},{"gene":"Ifitm2","col":4,"v":0.3},{"gene":"Ifitm2","col":5,"v":-1.15},{"gene":"Ifitm2","col":6,"v":-1.15},{"gene":"Ifitm2","col":7,"v":-0.75},{"gene":"Ifitm2","col":8,"v":-0.85},{"gene":"Ifitm2","col":9,"v":0.2},{"gene":"Ifitm2","col":10,"v":0.3},{"gene":"Ifitm2","col":11,"v":0.75},{"gene":"Ifitm2","col":12,"v":0.65},{"gene":"Ifitm2","col":13,"v":0.6},{"gene":"Ifitm2","col":14,"v":0.05},{"gene":"Ifitm2","col":15,"v":0.8},{"gene":"Ifitm2","col":16,"v":0.8},{"gene":"Ifitm2","col":17,"v":1.15},{"gene":"Ifitm2","col":18,"v":0.9},{"gene":"Ifitm2","col":19,"v":0.85},{"gene":"Ifitm2","col":20,"v":1.15},{"gene":"Ifitm2","col":21,"v":1.15},{"gene":"Ifitm2","col":22,"v":1.15},{"gene":"Ifitm2","col":23,"v":1.15},{"gene":"Ifitm2","col":24,"v":0.95},
{"gene":"Nr2c2ap","col":1,"v":-0.85},{"gene":"Nr2c2ap","col":2,"v":-0.7},{"gene":"Nr2c2ap","col":3,"v":-0.22},{"gene":"Nr2c2ap","col":4,"v":0.28},{"gene":"Nr2c2ap","col":5,"v":-1.0},{"gene":"Nr2c2ap","col":6,"v":-1.0},{"gene":"Nr2c2ap","col":7,"v":-0.95},{"gene":"Nr2c2ap","col":8,"v":-0.95},{"gene":"Nr2c2ap","col":9,"v":0.65},{"gene":"Nr2c2ap","col":10,"v":0.2},{"gene":"Nr2c2ap","col":11,"v":0.55},{"gene":"Nr2c2ap","col":12,"v":0.45},{"gene":"Nr2c2ap","col":13,"v":0.7},{"gene":"Nr2c2ap","col":14,"v":0.18},{"gene":"Nr2c2ap","col":15,"v":0.8},{"gene":"Nr2c2ap","col":16,"v":0.45},{"gene":"Nr2c2ap","col":17,"v":0.55},{"gene":"Nr2c2ap","col":18,"v":1.15},{"gene":"Nr2c2ap","col":19,"v":1.15},{"gene":"Nr2c2ap","col":20,"v":1.15},{"gene":"Nr2c2ap","col":21,"v":1.15},{"gene":"Nr2c2ap","col":22,"v":1.15},{"gene":"Nr2c2ap","col":23,"v":1.15},{"gene":"Nr2c2ap","col":24,"v":1.15},
{"gene":"Capns1","col":1,"v":-0.55},{"gene":"Capns1","col":2,"v":-0.55},{"gene":"Capns1","col":3,"v":-0.1},{"gene":"Capns1","col":4,"v":0.2},{"gene":"Capns1","col":5,"v":-0.95},{"gene":"Capns1","col":6,"v":-1.0},{"gene":"Capns1","col":7,"v":-1.0},{"gene":"Capns1","col":8,"v":-1.1},{"gene":"Capns1","col":9,"v":0.45},{"gene":"Capns1","col":10,"v":0.15},{"gene":"Capns1","col":11,"v":0.7},{"gene":"Capns1","col":12,"v":0.3},{"gene":"Capns1","col":13,"v":0.35},{"gene":"Capns1","col":14,"v":0.18},{"gene":"Capns1","col":15,"v":0.75},{"gene":"Capns1","col":16,"v":0.65},{"gene":"Capns1","col":17,"v":1.15},{"gene":"Capns1","col":18,"v":0.2},{"gene":"Capns1","col":19,"v":0.4},{"gene":"Capns1","col":20,"v":0.75},{"gene":"Capns1","col":21,"v":0.8},{"gene":"Capns1","col":22,"v":0.6},{"gene":"Capns1","col":23,"v":0.4},{"gene":"Capns1","col":24,"v":0.3},
{"gene":"Znhit1","col":1,"v":-1.05},{"gene":"Znhit1","col":2,"v":-0.25},{"gene":"Znhit1","col":3,"v":0.03},{"gene":"Znhit1","col":4,"v":0.02},{"gene":"Znhit1","col":5,"v":-1.15},{"gene":"Znhit1","col":6,"v":-1.05},{"gene":"Znhit1","col":7,"v":-0.85},{"gene":"Znhit1","col":8,"v":-0.55},{"gene":"Znhit1","col":9,"v":0.35},{"gene":"Znhit1","col":10,"v":0.25},{"gene":"Znhit1","col":11,"v":0.35},{"gene":"Znhit1","col":12,"v":0.4},{"gene":"Znhit1","col":13,"v":0.5},{"gene":"Znhit1","col":14,"v":0.18},{"gene":"Znhit1","col":15,"v":0.5},{"gene":"Znhit1","col":16,"v":0.75},{"gene":"Znhit1","col":17,"v":0.9},{"gene":"Znhit1","col":18,"v":0.12},{"gene":"Znhit1","col":19,"v":0.3},{"gene":"Znhit1","col":20,"v":0.45},{"gene":"Znhit1","col":21,"v":0.55},{"gene":"Znhit1","col":22,"v":0.4},{"gene":"Znhit1","col":23,"v":0.45},{"gene":"Znhit1","col":24,"v":0.4},
{"gene":"Rab1b","col":1,"v":-1.2},{"gene":"Rab1b","col":2,"v":-0.3},{"gene":"Rab1b","col":3,"v":0},{"gene":"Rab1b","col":4,"v":0.01},{"gene":"Rab1b","col":5,"v":-1.15},{"gene":"Rab1b","col":6,"v":-1.05},{"gene":"Rab1b","col":7,"v":-0.9},{"gene":"Rab1b","col":8,"v":-0.85},{"gene":"Rab1b","col":9,"v":0.3},{"gene":"Rab1b","col":10,"v":0.3},{"gene":"Rab1b","col":11,"v":0.45},{"gene":"Rab1b","col":12,"v":0.2},{"gene":"Rab1b","col":13,"v":0.4},{"gene":"Rab1b","col":14,"v":0.03},{"gene":"Rab1b","col":15,"v":1.15},{"gene":"Rab1b","col":16,"v":0.75},{"gene":"Rab1b","col":17,"v":1.1},{"gene":"Rab1b","col":18,"v":-0.9},{"gene":"Rab1b","col":19,"v":-0.9},{"gene":"Rab1b","col":20,"v":-0.25},{"gene":"Rab1b","col":21,"v":-0.35},{"gene":"Rab1b","col":22,"v":-0.9},{"gene":"Rab1b","col":23,"v":-0.6},{"gene":"Rab1b","col":24,"v":-0.8},
{"gene":"Uba1","col":1,"v":-0.85},{"gene":"Uba1","col":2,"v":-0.35},{"gene":"Uba1","col":3,"v":0.08},{"gene":"Uba1","col":4,"v":-0.18},{"gene":"Uba1","col":5,"v":-0.85},{"gene":"Uba1","col":6,"v":-1.05},{"gene":"Uba1","col":7,"v":-0.5},{"gene":"Uba1","col":8,"v":-0.12},{"gene":"Uba1","col":9,"v":0.35},{"gene":"Uba1","col":10,"v":0.35},{"gene":"Uba1","col":11,"v":0.15},{"gene":"Uba1","col":12,"v":0.2},{"gene":"Uba1","col":13,"v":0.7},{"gene":"Uba1","col":14,"v":0.25},{"gene":"Uba1","col":15,"v":0.25},{"gene":"Uba1","col":16,"v":0.5},{"gene":"Uba1","col":17,"v":0.75},{"gene":"Uba1","col":18,"v":0.18},{"gene":"Uba1","col":19,"v":0},{"gene":"Uba1","col":20,"v":0.35},{"gene":"Uba1","col":21,"v":0.3},{"gene":"Uba1","col":22,"v":0.45},{"gene":"Uba1","col":23,"v":0.35},{"gene":"Uba1","col":24,"v":0.12},
{"gene":"Sec14l1","col":1,"v":-0.6},{"gene":"Sec14l1","col":2,"v":-0.1},{"gene":"Sec14l1","col":3,"v":0},{"gene":"Sec14l1","col":4,"v":-0.4},{"gene":"Sec14l1","col":5,"v":-0.65},{"gene":"Sec14l1","col":6,"v":-0.7},{"gene":"Sec14l1","col":7,"v":-0.4},{"gene":"Sec14l1","col":8,"v":-0.65},{"gene":"Sec14l1","col":9,"v":0.25},{"gene":"Sec14l1","col":10,"v":0.3},{"gene":"Sec14l1","col":11,"v":0.08},{"gene":"Sec14l1","col":12,"v":0.55},{"gene":"Sec14l1","col":13,"v":0.7},{"gene":"Sec14l1","col":14,"v":0.3},{"gene":"Sec14l1","col":15,"v":0.2},{"gene":"Sec14l1","col":16,"v":0.4},{"gene":"Sec14l1","col":17,"v":0.75},{"gene":"Sec14l1","col":18,"v":0.55},{"gene":"Sec14l1","col":19,"v":0.85},{"gene":"Sec14l1","col":20,"v":0.25},{"gene":"Sec14l1","col":21,"v":0.15},{"gene":"Sec14l1","col":22,"v":0.5},{"gene":"Sec14l1","col":23,"v":0.25},{"gene":"Sec14l1","col":24,"v":0.2},
{"gene":"Pdzd11","col":1,"v":-0.4},{"gene":"Pdzd11","col":2,"v":-0.55},{"gene":"Pdzd11","col":3,"v":0},{"gene":"Pdzd11","col":4,"v":-0.6},{"gene":"Pdzd11","col":5,"v":-0.7},{"gene":"Pdzd11","col":6,"v":-0.8},{"gene":"Pdzd11","col":7,"v":-0.12},{"gene":"Pdzd11","col":8,"v":-0.6},{"gene":"Pdzd11","col":9,"v":0.35},{"gene":"Pdzd11","col":10,"v":0.35},{"gene":"Pdzd11","col":11,"v":0.6},{"gene":"Pdzd11","col":12,"v":0.3},{"gene":"Pdzd11","col":13,"v":0.65},{"gene":"Pdzd11","col":14,"v":0.22},{"gene":"Pdzd11","col":15,"v":0.35},{"gene":"Pdzd11","col":16,"v":0.4},{"gene":"Pdzd11","col":17,"v":0.35},{"gene":"Pdzd11","col":18,"v":0.2},{"gene":"Pdzd11","col":19,"v":0.18},{"gene":"Pdzd11","col":20,"v":0.4},{"gene":"Pdzd11","col":21,"v":0.35},{"gene":"Pdzd11","col":22,"v":0.4},{"gene":"Pdzd11","col":23,"v":0.25},{"gene":"Pdzd11","col":24,"v":0.2},
{"gene":"Fadd","col":1,"v":-0.25},{"gene":"Fadd","col":2,"v":-0.4},{"gene":"Fadd","col":3,"v":-0.2},{"gene":"Fadd","col":4,"v":0},{"gene":"Fadd","col":5,"v":-0.6},{"gene":"Fadd","col":6,"v":-0.65},{"gene":"Fadd","col":7,"v":-0.55},{"gene":"Fadd","col":8,"v":-0.45},{"gene":"Fadd","col":9,"v":0.15},{"gene":"Fadd","col":10,"v":0},{"gene":"Fadd","col":11,"v":0.45},{"gene":"Fadd","col":12,"v":0.3},{"gene":"Fadd","col":13,"v":0.65},{"gene":"Fadd","col":14,"v":0.5},{"gene":"Fadd","col":15,"v":0.35},{"gene":"Fadd","col":16,"v":0.35},{"gene":"Fadd","col":17,"v":0.35},{"gene":"Fadd","col":18,"v":-0.35},{"gene":"Fadd","col":19,"v":-0.4},{"gene":"Fadd","col":20,"v":-0.2},{"gene":"Fadd","col":21,"v":0.15},{"gene":"Fadd","col":22,"v":-0.25},{"gene":"Fadd","col":23,"v":-0.12},{"gene":"Fadd","col":24,"v":-0.35},
{"gene":"Ube2n","col":1,"v":-0.45},{"gene":"Ube2n","col":2,"v":-0.4},{"gene":"Ube2n","col":3,"v":-0.3},{"gene":"Ube2n","col":4,"v":-0.2},{"gene":"Ube2n","col":5,"v":-0.1},{"gene":"Ube2n","col":6,"v":-0.35},{"gene":"Ube2n","col":7,"v":-0.3},{"gene":"Ube2n","col":8,"v":-0.5},{"gene":"Ube2n","col":9,"v":0.3},{"gene":"Ube2n","col":10,"v":0.02},{"gene":"Ube2n","col":11,"v":0.6},{"gene":"Ube2n","col":12,"v":0.4},{"gene":"Ube2n","col":13,"v":0.55},{"gene":"Ube2n","col":14,"v":0.1},{"gene":"Ube2n","col":15,"v":0.08},{"gene":"Ube2n","col":16,"v":0.35},{"gene":"Ube2n","col":17,"v":0.5},{"gene":"Ube2n","col":18,"v":0.25},{"gene":"Ube2n","col":19,"v":0.2},{"gene":"Ube2n","col":20,"v":0.15},{"gene":"Ube2n","col":21,"v":0.12},{"gene":"Ube2n","col":22,"v":0.05},{"gene":"Ube2n","col":23,"v":0.3},{"gene":"Ube2n","col":24,"v":0.15},
{"gene":"Tst","col":1,"v":-0.7},{"gene":"Tst","col":2,"v":-0.85},{"gene":"Tst","col":3,"v":-0.4},{"gene":"Tst","col":4,"v":0.12},{"gene":"Tst","col":5,"v":-1.15},{"gene":"Tst","col":6,"v":-0.3},{"gene":"Tst","col":7,"v":-0.65},{"gene":"Tst","col":8,"v":-0.95},{"gene":"Tst","col":9,"v":0.4},{"gene":"Tst","col":10,"v":0.35},{"gene":"Tst","col":11,"v":0.25},{"gene":"Tst","col":12,"v":0.4},{"gene":"Tst","col":13,"v":0.7},{"gene":"Tst","col":14,"v":0.25},{"gene":"Tst","col":15,"v":0.85},{"gene":"Tst","col":16,"v":0.35},{"gene":"Tst","col":17,"v":0.4},{"gene":"Tst","col":18,"v":0.35},{"gene":"Tst","col":19,"v":0.2},{"gene":"Tst","col":20,"v":-1.1},{"gene":"Tst","col":21,"v":-1.1},{"gene":"Tst","col":22,"v":-0.25},{"gene":"Tst","col":23,"v":-0.1},{"gene":"Tst","col":24,"v":-1.15},
{"gene":"Gfod2","col":1,"v":-0.18},{"gene":"Gfod2","col":2,"v":-0.3},{"gene":"Gfod2","col":3,"v":-0.65},{"gene":"Gfod2","col":4,"v":0.03},{"gene":"Gfod2","col":5,"v":-1.15},{"gene":"Gfod2","col":6,"v":-0.35},{"gene":"Gfod2","col":7,"v":-0.7},{"gene":"Gfod2","col":8,"v":-0.4},{"gene":"Gfod2","col":9,"v":0.3},{"gene":"Gfod2","col":10,"v":0.35},{"gene":"Gfod2","col":11,"v":0.25},{"gene":"Gfod2","col":12,"v":0.22},{"gene":"Gfod2","col":13,"v":0.7},{"gene":"Gfod2","col":14,"v":0.15},{"gene":"Gfod2","col":15,"v":0.8},{"gene":"Gfod2","col":16,"v":0.45},{"gene":"Gfod2","col":17,"v":0.55},{"gene":"Gfod2","col":18,"v":0.08},{"gene":"Gfod2","col":19,"v":0.45},{"gene":"Gfod2","col":20,"v":0.3},{"gene":"Gfod2","col":21,"v":0.3},{"gene":"Gfod2","col":22,"v":0.15},{"gene":"Gfod2","col":23,"v":0.25},{"gene":"Gfod2","col":24,"v":0.25},
{"gene":"Mta2","col":1,"v":-0.4},{"gene":"Mta2","col":2,"v":-0.45},{"gene":"Mta2","col":3,"v":-0.2},{"gene":"Mta2","col":4,"v":0.25},{"gene":"Mta2","col":5,"v":-1.15},{"gene":"Mta2","col":6,"v":-0.65},{"gene":"Mta2","col":7,"v":-0.55},{"gene":"Mta2","col":8,"v":-0.7},{"gene":"Mta2","col":9,"v":0.4},{"gene":"Mta2","col":10,"v":0.35},{"gene":"Mta2","col":11,"v":0.4},{"gene":"Mta2","col":12,"v":0.3},{"gene":"Mta2","col":13,"v":0.75},{"gene":"Mta2","col":14,"v":-0.03},{"gene":"Mta2","col":15,"v":0.8},{"gene":"Mta2","col":16,"v":0.35},{"gene":"Mta2","col":17,"v":0.7},{"gene":"Mta2","col":18,"v":0.15},{"gene":"Mta2","col":19,"v":-0.65},{"gene":"Mta2","col":20,"v":-0.03},{"gene":"Mta2","col":21,"v":-0.1},{"gene":"Mta2","col":22,"v":0.3},{"gene":"Mta2","col":23,"v":0.2},{"gene":"Mta2","col":24,"v":-0.15},
{"gene":"Eif5b","col":1,"v":-0.35},{"gene":"Eif5b","col":2,"v":-0.7},{"gene":"Eif5b","col":3,"v":-0.1},{"gene":"Eif5b","col":4,"v":0.03},{"gene":"Eif5b","col":5,"v":-1.15},{"gene":"Eif5b","col":6,"v":-0.6},{"gene":"Eif5b","col":7,"v":-0.6},{"gene":"Eif5b","col":8,"v":-0.4},{"gene":"Eif5b","col":9,"v":0.45},{"gene":"Eif5b","col":10,"v":0.3},{"gene":"Eif5b","col":11,"v":0.2},{"gene":"Eif5b","col":12,"v":0.3},{"gene":"Eif5b","col":13,"v":0.85},{"gene":"Eif5b","col":14,"v":0.3},{"gene":"Eif5b","col":15,"v":0.55},{"gene":"Eif5b","col":16,"v":0.6},{"gene":"Eif5b","col":17,"v":0.55},{"gene":"Eif5b","col":18,"v":0.4},{"gene":"Eif5b","col":19,"v":0.45},{"gene":"Eif5b","col":20,"v":0.35},{"gene":"Eif5b","col":21,"v":0.2},{"gene":"Eif5b","col":22,"v":0.35},{"gene":"Eif5b","col":23,"v":0.4},{"gene":"Eif5b","col":24,"v":0.35},
{"gene":"Stra13","col":1,"v":-0.4},{"gene":"Stra13","col":2,"v":-1.0},{"gene":"Stra13","col":3,"v":-0.08},{"gene":"Stra13","col":4,"v":-0.15},{"gene":"Stra13","col":5,"v":-1.1},{"gene":"Stra13","col":6,"v":-1.15},{"gene":"Stra13","col":7,"v":-0.5},{"gene":"Stra13","col":8,"v":-0.4},{"gene":"Stra13","col":9,"v":0.4},{"gene":"Stra13","col":10,"v":0.5},{"gene":"Stra13","col":11,"v":0.4},{"gene":"Stra13","col":12,"v":0.3},{"gene":"Stra13","col":13,"v":0.75},{"gene":"Stra13","col":14,"v":0.25},{"gene":"Stra13","col":15,"v":1.05},{"gene":"Stra13","col":16,"v":0.35},{"gene":"Stra13","col":17,"v":0.75},{"gene":"Stra13","col":18,"v":0.12},{"gene":"Stra13","col":19,"v":0.55},{"gene":"Stra13","col":20,"v":0.45},{"gene":"Stra13","col":21,"v":0.8},{"gene":"Stra13","col":22,"v":0.8},{"gene":"Stra13","col":23,"v":0.8},{"gene":"Stra13","col":24,"v":0.25},
{"gene":"Pcgf1","col":1,"v":-1.0},{"gene":"Pcgf1","col":2,"v":-0.45},{"gene":"Pcgf1","col":3,"v":-0.02},{"gene":"Pcgf1","col":4,"v":-0.06},{"gene":"Pcgf1","col":5,"v":-0.55},{"gene":"Pcgf1","col":6,"v":-1.1},{"gene":"Pcgf1","col":7,"v":-0.85},{"gene":"Pcgf1","col":8,"v":-0.4},{"gene":"Pcgf1","col":9,"v":0.35},{"gene":"Pcgf1","col":10,"v":0.2},{"gene":"Pcgf1","col":11,"v":0.75},{"gene":"Pcgf1","col":12,"v":0.12},{"gene":"Pcgf1","col":13,"v":0.5},{"gene":"Pcgf1","col":14,"v":0.3},{"gene":"Pcgf1","col":15,"v":1.05},{"gene":"Pcgf1","col":16,"v":0.3},{"gene":"Pcgf1","col":17,"v":0.55},{"gene":"Pcgf1","col":18,"v":0.5},{"gene":"Pcgf1","col":19,"v":0.02},{"gene":"Pcgf1","col":20,"v":0.03},{"gene":"Pcgf1","col":21,"v":0.55},{"gene":"Pcgf1","col":22,"v":0},{"gene":"Pcgf1","col":23,"v":0.7},{"gene":"Pcgf1","col":24,"v":0.02},
{"gene":"Rogdi","col":1,"v":-0.35},{"gene":"Rogdi","col":2,"v":-0.6},{"gene":"Rogdi","col":3,"v":-0.2},{"gene":"Rogdi","col":4,"v":-0.08},{"gene":"Rogdi","col":5,"v":-0.75},{"gene":"Rogdi","col":6,"v":-0.85},{"gene":"Rogdi","col":7,"v":-0.85},{"gene":"Rogdi","col":8,"v":-0.25},{"gene":"Rogdi","col":9,"v":0.15},{"gene":"Rogdi","col":10,"v":0.65},{"gene":"Rogdi","col":11,"v":0.85},{"gene":"Rogdi","col":12,"v":0.12},{"gene":"Rogdi","col":13,"v":0.5},{"gene":"Rogdi","col":14,"v":0.12},{"gene":"Rogdi","col":15,"v":1.15},{"gene":"Rogdi","col":16,"v":0.2},{"gene":"Rogdi","col":17,"v":0.3},{"gene":"Rogdi","col":18,"v":-1.1},{"gene":"Rogdi","col":19,"v":-1.1},{"gene":"Rogdi","col":20,"v":-1.15},{"gene":"Rogdi","col":21,"v":-1.15},{"gene":"Rogdi","col":22,"v":-1.1},{"gene":"Rogdi","col":23,"v":-0.6},{"gene":"Rogdi","col":24,"v":-1.1}
],
"genes":[{"gene":"LOC100270747","effect":"down"},{"gene":"Ttc14","effect":"down"},{"gene":"Btg2","effect":"down"},{"gene":"Gdpd2","effect":"down"},{"gene":"Mlf2","effect":"up"},{"gene":"Lgals9","effect":"up"},{"gene":"Psmb7","effect":"up"},{"gene":"Mapre3","effect":"up"},{"gene":"Ptms","effect":"up"},{"gene":"Ube2d1","effect":"up"},{"gene":"Zyx","effect":"up"},{"gene":"Asna1","effect":"up"},{"gene":"Ube2m","effect":"up"},{"gene":"Bsg","effect":"up"},{"gene":"Ascc1","effect":"up"},{"gene":"Rad23b","effect":"up"},{"gene":"Atp6v0b","effect":"up"},{"gene":"Ppox","effect":"up"},{"gene":"Anapc11","effect":"up"},{"gene":"Mpv17l2","effect":"up"},{"gene":"Clptm1","effect":"up"},{"gene":"Txndc12","effect":"up"},{"gene":"Mlec","effect":"up"},{"gene":"Ucp2","effect":"up"},{"gene":"Aes","effect":"up"},{"gene":"Tecr","effect":"up"},{"gene":"BC056474","effect":"up"},{"gene":"S100a1","effect":"up"},{"gene":"Aip","effect":"up"},{"gene":"Drap1","effect":"up"},{"gene":"Mid1ip1","effect":"up"},{"gene":"Ruvbl2","effect":"up"},{"gene":"Nr1h2","effect":"up"},{"gene":"Ifitm2","effect":"up"},{"gene":"Nr2c2ap","effect":"up"},{"gene":"Capns1","effect":"up"},{"gene":"Znhit1","effect":"up"},{"gene":"Rab1b","effect":"up"},{"gene":"Uba1","effect":"up"},{"gene":"Sec14l1","effect":"up"},{"gene":"Pdzd11","effect":"up"},{"gene":"Fadd","effect":"up"},{"gene":"Ube2n","effect":"up"},{"gene":"Tst","effect":"up"},{"gene":"Gfod2","effect":"up"},{"gene":"Mta2","effect":"up"},{"gene":"Eif5b","effect":"up"},{"gene":"Stra13","effect":"up"},{"gene":"Pcgf1","effect":"up"},{"gene":"Rogdi","effect":"up"}]},
"concat":[
{"width":91,"height":46,"data":{"values":[]},"mark":{"type":"text"},"encoding":{}},
{"width":26,"height":46,"data":{"values":[]},"mark":{"type":"text"},"encoding":{}},
{"width":22,"height":46,"data":{"values":[{"line":"MS effect"},{"line":"in tumors"}]},"mark":{"type":"text","angle":270,"align":"left","baseline":"middle","fontSize":10.5,"color":"black"},"encoding":{"x":{"field":"line","type":"nominal","sort":null,"axis":null,"scale":{"paddingInner":0,"paddingOuter":0}},"y":{"datum":0,"type":"quantitative","scale":{"domain":[0,1]},"axis":null},"text":{"field":"line"}}},
{"width":500,"height":46,"data":{"values":[{"level":"tissue","label":"Tumor","start":0,"end":17},{"level":"tissue","label":"Parenchyma","start":17,"end":24},{"level":"dose","label":"Sham","start":0,"end":8},{"level":"dose","label":"High-dose","start":8,"end":17},{"level":"dose","label":"Sham","start":17,"end":19},{"level":"dose","label":"High-dose","start":19,"end":24}]},"transform":[{"calculate":"(datum.start+datum.end)/2","as":"mid"}],
"layer":[
{"mark":{"type":"rect","stroke":"#1a1a1a","strokeWidth":1},"encoding":{"x":{"field":"start","type":"quantitative","scale":{"domain":[0,24],"nice":false},"axis":null},"x2":{"field":"end"},"y":{"field":"level","type":"nominal","sort":["tissue","dose"],"axis":null,"scale":{"paddingInner":0,"paddingOuter":0}},"color":{"field":"label","type":"nominal","legend":null,"scale":{"domain":["Tumor","Parenchyma","Sham","High-dose"],"range":["#58595b","#a7a9ac","#ffffff","#1a1a1a"]}}}},
{"mark":{"type":"text"},"encoding":{"x":{"field":"mid","type":"quantitative"},"y":{"field":"level","type":"nominal","sort":["tissue","dose"]},"text":{"field":"label"},"size":{"field":"level","type":"nominal","legend":null,"scale":{"domain":["tissue","dose"],"range":[14,12.5]}},"color":{"condition":{"test":"datum.label=='Sham'","value":"#1a1a1a"},"value":"#ffffff"}}}
],"resolve":{"scale":{"color":"independent"}}},
{"width":91,"height":63,"title":{"text":["Color Key","and Histogram"],"fontSize":12,"fontWeight":"normal","anchor":"middle","offset":4,"font":"Open Sans","lineHeight":13},
"resolve":{"axis":{"y":"independent"}},
"layer":[
{"data":{"values":[{"from":-1.28,"to":1.31,"low":0,"high":83.5}]},"mark":{"type":"rect","color":{"x1":0,"y1":0,"x2":1,"y2":0,"gradient":"linear","stops":[{"offset":0,"color":"#3953a4"},{"offset":0.5,"color":"#ffffff"},{"offset":1,"color":"#ed1c24"}]}},
"encoding":{"x":{"field":"from","type":"quantitative","scale":{"domain":[-1.28,1.31],"nice":false,"zero":false},"axis":{"values":[-1,-0.5,0,0.5,1],"labelExpr":"datum.value==-1?'−1':datum.value==0?'0':datum.value==1?'1':''","title":"Value","titleFontSize":12,"titleFontWeight":"normal","labelFontSize":8,"tickColor":"black","domainColor":"black","tickSize":7,"grid":false,"labelPadding":8,"titlePadding":4,"labelColor":"black","labelOverlap":false}},"x2":{"field":"to"},
"y":{"field":"low","type":"quantitative","scale":{"domain":[0,80.77],"nice":false},"axis":{"values":[0,40,80],"title":"Count","titleFontSize":12,"titleFontWeight":"normal","labelFontSize":8,"labelAngle":-90,"labelAlign":"center","labelBaseline":"bottom","tickColor":"black","domainColor":"black","tickSize":6,"grid":false,"labelPadding":8,"titlePadding":7,"labelColor":"black","labelOverlap":false}},"y2":{"field":"high"}}},
{"data":{"values":[{"value":-1.28,"count":54},{"value":-1.26,"count":3},{"value":-1.2,"count":5},{"value":-1.15,"count":8},{"value":-1.1,"count":11},{"value":-1.05,"count":7},{"value":-1.0,"count":8},{"value":-0.95,"count":12},{"value":-0.9,"count":16},{"value":-0.85,"count":11},{"value":-0.8,"count":9},{"value":-0.75,"count":11},{"value":-0.7,"count":12},{"value":-0.65,"count":13},{"value":-0.6,"count":14},{"value":-0.55,"count":13},{"value":-0.5,"count":15},{"value":-0.45,"count":14},{"value":-0.4,"count":10},{"value":-0.35,"count":15},{"value":-0.3,"count":14},{"value":-0.25,"count":11},{"value":-0.2,"count":9},{"value":-0.15,"count":12},{"value":-0.1,"count":10},{"value":-0.05,"count":11},{"value":0,"count":12},{"value":0.05,"count":10},{"value":0.1,"count":15},{"value":0.15,"count":19},{"value":0.2,"count":25},{"value":0.25,"count":22},{"value":0.3,"count":26},{"value":0.35,"count":23},{"value":0.4,"count":35},{"value":0.45,"count":20},{"value":0.5,"count":24},{"value":0.55,"count":20},{"value":0.6,"count":8},{"value":0.65,"count":19},{"value":0.7,"count":15},{"value":0.75,"count":14},{"value":0.8,"count":13},{"value":0.85,"count":14},{"value":0.9,"count":12},{"value":0.95,"count":9},{"value":1.0,"count":8},{"value":1.05,"count":5},{"value":1.1,"count":8},{"value":1.17,"count":80},{"value":1.18,"count":0}]},"mark":{"type":"line","interpolate":"step-after","color":"#5fc4d6","strokeWidth":1.5,"strokeOpacity":0.75},"encoding":{"x":{"field":"value","type":"quantitative"},"y":{"field":"count","type":"quantitative","axis":{"orient":"left","values":[20,60],"labels":false,"title":null,"domain":false,"tickColor":"black","tickSize":6,"grid":false}}}}
]},
{"width":26,"height":378,"data":{"values":[]},"mark":{"type":"text"},"encoding":{}},
{"width":22,"height":378,"data":{"name":"genes"},"mark":{"type":"rect","strokeWidth":0.5},"encoding":{"y":{"field":"gene","type":"nominal","sort":null,"axis":null,"scale":{"paddingInner":0,"paddingOuter":0}},"color":{"field":"effect","type":"nominal","legend":null,"scale":{"domain":["down","up"],"range":["#3953a4","#ed1c24"]}},"stroke":{"field":"effect","type":"nominal","legend":null,"scale":{"domain":["down","up"],"range":["#3953a4","#ed1c24"]}}}},
{"width":500,"height":378,"data":{"name":"cells"},"mark":{"type":"rect","strokeWidth":0.3},"encoding":{"x":{"field":"col","type":"ordinal","axis":null,"scale":{"domain":[1,2,3,4,5,6,7,8,9,10,11,12,13,14,15,16,17,18,19,20,21,22,23,24],"paddingInner":0,"paddingOuter":0}},"y":{"field":"gene","type":"nominal","scale":{"domain":["LOC100270747","Ttc14","Btg2","Gdpd2","Mlf2","Lgals9","Psmb7","Mapre3","Ptms","Ube2d1","Zyx","Asna1","Ube2m","Bsg","Ascc1","Rad23b","Atp6v0b","Ppox","Anapc11","Mpv17l2","Clptm1","Txndc12","Mlec","Ucp2","Aes","Tecr","BC056474","S100a1","Aip","Drap1","Mid1ip1","Ruvbl2","Nr1h2","Ifitm2","Nr2c2ap","Capns1","Znhit1","Rab1b","Uba1","Sec14l1","Pdzd11","Fadd","Ube2n","Tst","Gfod2","Mta2","Eif5b","Stra13","Pcgf1","Rogdi"],"paddingInner":0,"paddingOuter":0},"axis":{"orient":"right","title":null,"domain":false,"ticks":false,"labelPadding":8,"labelFontSize":7.5,"labelColor":"#111111","labelOverlap":false}},"color":{"field":"v","type":"quantitative","legend":null,"scale":{"domain":[-1.2,0,1.2],"range":["#3953a4","#ffffff","#ed1c24"],"clamp":true,"interpolate":"rgb"}},"stroke":{"field":"v","type":"quantitative","legend":null,"scale":{"domain":[-1.2,0,1.2],"range":["#3953a4","#ffffff","#ed1c24"],"clamp":true,"interpolate":"rgb"}}}}
]}
